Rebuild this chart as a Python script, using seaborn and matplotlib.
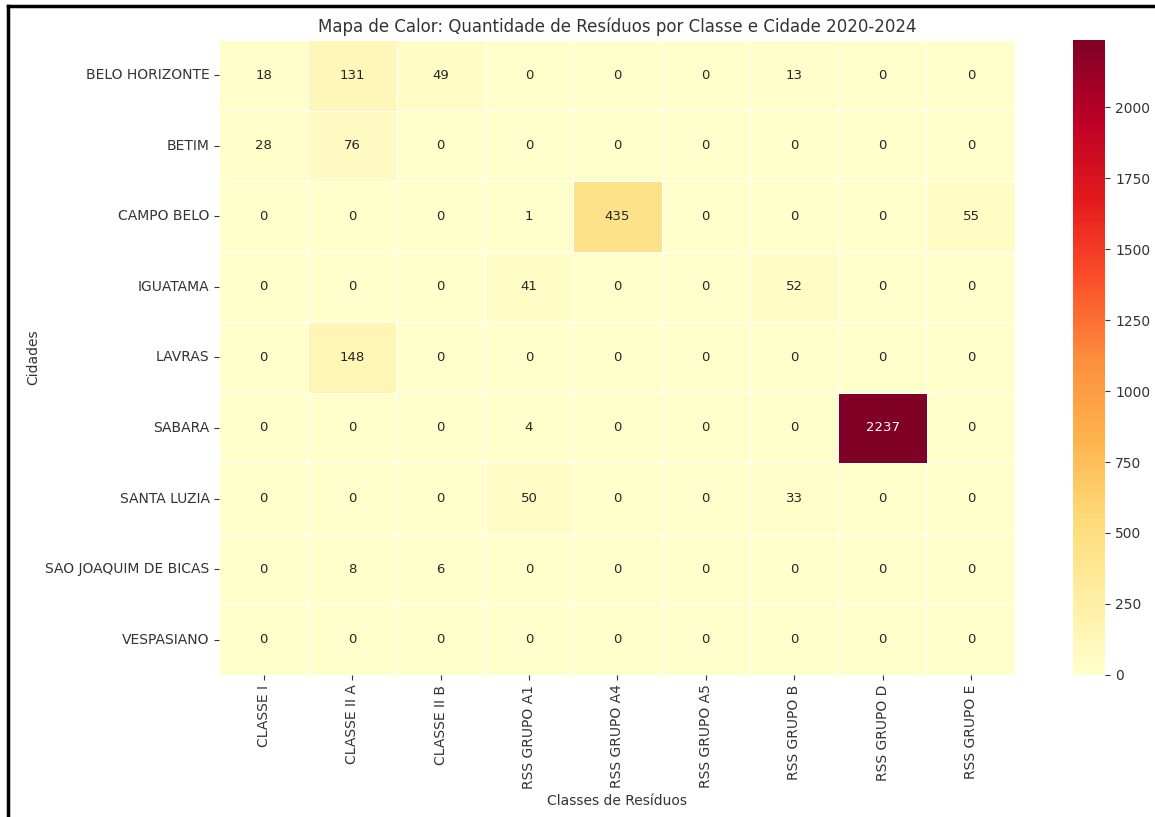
import numpy as np
import pandas as pd
import matplotlib
matplotlib.use('Agg')
import matplotlib.pyplot as plt
import seaborn as sns
from matplotlib.lines import Line2D

cidades = ['BELO HORIZONTE', 'BETIM', 'CAMPO BELO', 'IGUATAMA', 'LAVRAS', 'SABARA',
           'SANTA LUZIA', 'SAO JOAQUIM DE BICAS', 'VESPASIANO']
classes = ['CLASSE I', 'CLASSE II A', 'CLASSE II B', 'RSS GRUPO A1', 'RSS GRUPO A4',
           'RSS GRUPO A5', 'RSS GRUPO B', 'RSS GRUPO D', 'RSS GRUPO E']
valores = [
    [18, 131, 49, 0, 0, 0, 13, 0, 0],
    [28, 76, 0, 0, 0, 0, 0, 0, 0],
    [0, 0, 0, 1, 435, 0, 0, 0, 55],
    [0, 0, 0, 41, 0, 0, 52, 0, 0],
    [0, 148, 0, 0, 0, 0, 0, 0, 0],
    [0, 0, 0, 4, 0, 0, 0, 2237, 0],
    [0, 0, 0, 50, 0, 0, 33, 0, 0],
    [0, 8, 6, 0, 0, 0, 0, 0, 0],
    [0, 0, 0, 0, 0, 0, 0, 0, 0],
]

df = pd.DataFrame(valores, index=cidades, columns=classes)

cinza = '#333333'
plt.rcParams['text.color'] = cinza
plt.rcParams['axes.labelcolor'] = cinza
plt.rcParams['xtick.color'] = cinza
plt.rcParams['ytick.color'] = cinza

fig = plt.figure(figsize=(11.55, 8.17), dpi=100)
ax = fig.add_axes([0.19, 0.174, 0.689, 0.777])
cax = fig.add_axes([0.929, 0.174, 0.028, 0.777])

sns.heatmap(df, annot=True, fmt='d', cmap='YlOrRd', linewidths=0.5, linecolor='white',
            ax=ax, cbar_ax=cax, annot_kws={'fontsize': 9.5})
ax.set_title('Mapa de Calor: Quantidade de Resíduos por Classe e Cidade 2020-2024', fontsize=12)
ax.set_xlabel('Classes de Resíduos', fontsize=10)
ax.set_ylabel('Cidades', fontsize=10)
ax.tick_params(axis='both', labelsize=10)
plt.setp(ax.get_xticklabels(), rotation=90)
plt.setp(ax.get_yticklabels(), rotation=0)
cax.tick_params(labelsize=10)
cax.yaxis.set_ticks(np.arange(0, 2001, 250))

# borda do recorte (só esquerda e topo)
fig.lines.append(Line2D([8 / 1155, 8 / 1155], [0, 1 - 6 / 817], transform=fig.transFigure,
                        color='black', linewidth=2.5))
fig.lines.append(Line2D([8 / 1155, 1], [1 - 6 / 817, 1 - 6 / 817], transform=fig.transFigure,
                        color='black', linewidth=2.5))

fig.savefig('out.png', dpi=100)
